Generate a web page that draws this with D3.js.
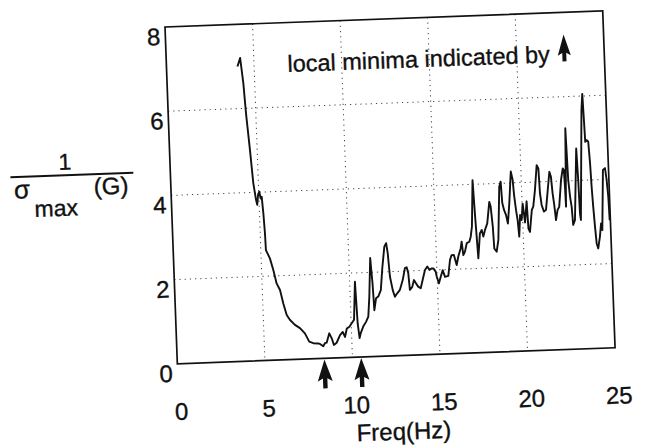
<!DOCTYPE html>
<html>
<head>
<meta charset="utf-8">
<title>1 / sigma max (G) vs frequency</title>
<script src="https://d3js.org/d3.v7.min.js"></script>
<style>
    body {
        margin: 0;
        background: #fff;
    }
    text {
        font-family: "Liberation Sans", Arial, sans-serif;
        fill: #111;
        stroke: #111;
        stroke-width: 0.35px;
    }
</style>
</head>
<body>
<script>
    // [freq (Hz), 1/sigma_max(G)]
    const curve = [
        [4.05, 7.0], [4.22, 7.2], [4.35, 6.6], [4.44, 5.88], [4.59, 5.0], [4.71, 4.22], [4.83, 3.82], [4.89, 3.7],
        [4.96, 3.95], [5.03, 4.01], [5.1, 3.85], [5.16, 3.89], [5.22, 3.5], [5.27, 3.02], [5.29, 2.62], [5.5, 2.42],
        [5.67, 2.14], [5.83, 1.82], [6.01, 1.66], [6.17, 1.34], [6.34, 1.06], [6.52, 0.94], [6.79, 0.82], [7.07, 0.74],
        [7.34, 0.61], [7.57, 0.41], [7.8, 0.37], [8.08, 0.36], [8.2, 0.34], [8.36, 0.29], [8.46, 0.36], [8.56, 0.37],
        [8.73, 0.59], [8.86, 0.47], [8.97, 0.31], [9.13, 0.36], [9.34, 0.54], [9.5, 0.61], [9.62, 0.49], [9.74, 0.69],
        [9.89, 0.73], [10.03, 0.81], [10.17, 0.89], [10.3, 1.79], [10.37, 0.8], [10.45, 0.45], [10.52, 0.56], [10.68, 0.72],
        [10.85, 0.83], [10.99, 0.95], [11.09, 1.42], [11.22, 2.34], [11.3, 1.74], [11.35, 1.1], [11.47, 1.38], [11.6, 1.42],
        [11.76, 1.57], [11.89, 2.09], [12.05, 2.6], [12.16, 2.68], [12.23, 2.44], [12.31, 1.88], [12.44, 1.56], [12.55, 1.4],
        [12.69, 1.48], [12.85, 1.56], [13.03, 1.79], [13.18, 2.07], [13.28, 2.09], [13.36, 1.95], [13.42, 1.55], [13.56, 1.62],
        [13.67, 1.78], [13.78, 1.7], [13.9, 1.62], [14.04, 1.58], [14.17, 1.78], [14.32, 2.01], [14.46, 2.09], [14.57, 2.01],
        [14.71, 2.04], [14.8, 2.04], [14.93, 1.96], [14.98, 1.84], [15.09, 1.68], [15.21, 1.84], [15.33, 1.99], [15.45, 1.83],
        [15.64, 1.85], [15.77, 2.23], [15.87, 2.34], [16.0, 2.34], [16.14, 2.1], [16.25, 2.3], [16.4, 2.49], [16.47, 2.65],
        [16.54, 2.33], [16.64, 2.41], [16.76, 2.61], [16.91, 2.64], [17.0, 2.76], [17.09, 3.0], [17.22, 4.1], [17.3, 3.15],
        [17.34, 2.75], [17.39, 2.24], [17.53, 2.83], [17.64, 2.91], [17.72, 2.75], [17.83, 2.91], [17.97, 3.06], [18.13, 3.57],
        [18.2, 3.45], [18.28, 2.98], [18.32, 2.46], [18.45, 2.38], [18.57, 2.66], [18.73, 3.92], [18.82, 4.04], [18.87, 3.53],
        [18.96, 3.36], [19.06, 3.24], [19.15, 3.04], [19.27, 3.52], [19.42, 4.27], [19.51, 4.07], [19.56, 3.71], [19.64, 3.35],
        [19.71, 3.11], [19.77, 2.72], [19.86, 3.23], [19.94, 3.11], [20.03, 3.5], [20.13, 3.05], [20.26, 3.55], [20.31, 2.9],
        [20.39, 2.82], [20.54, 3.34], [20.63, 3.42], [20.76, 3.81], [20.91, 4.4], [21.0, 4.32], [21.04, 3.73], [21.11, 3.45],
        [21.23, 3.29], [21.35, 3.33], [21.49, 3.8], [21.62, 4.23], [21.7, 4.11], [21.76, 3.72], [21.83, 3.44], [21.9, 3.08],
        [22.01, 3.32], [22.11, 3.39], [22.27, 4.03], [22.39, 4.3], [22.45, 4.26], [22.48, 3.86], [22.5, 3.39], [22.62, 5.25],
        [22.68, 4.02], [22.75, 3.62], [22.82, 3.38], [22.87, 2.95], [22.98, 3.06], [23.2, 4.76], [23.25, 4.01], [23.28, 3.22],
        [23.32, 3.06], [23.58, 5.67], [23.66, 6.05], [23.7, 5.43], [23.73, 4.91], [23.82, 4.95], [23.9, 4.91], [23.96, 4.4],
        [24.0, 3.84], [24.05, 3.36], [24.11, 2.89], [24.17, 2.49], [24.25, 2.37], [24.37, 2.65], [24.46, 2.96], [24.52, 2.8],
        [24.68, 4.23], [24.8, 4.27], [24.87, 3.99], [24.93, 3.59], [24.96, 3.03]
    ];
    const xTicks = [0, 5, 10, 15, 20, 25];
    const yTicks = [0, 2, 4, 6, 8];
    const xGrid = [5, 10, 15, 20];
    const yGrid = [2, 4, 6];
    const minima = [8.4, 10.5];
    const noteText = "local minima indicated by";
    const xTitle = "Freq(Hz)";

    const width = 646;
    const height = 447;
    const plotW = 438;
    const plotH = 337;

    const svg = d3.select("body")
        .append("svg")
        .attr("width", width)
        .attr("height", height);

    svg.append("rect")
        .attr("width", width)
        .attr("height", height)
        .attr("fill", "#fff");

    // the scan is slightly tilted, so the whole figure is drawn in a rotated frame
    const g = svg.append("g")
        .attr("transform", "translate(165,27) rotate(-2.1)");

    const x = d3.scaleLinear().domain([0, 25]).range([0, plotW]);
    const y = d3.scaleLinear().domain([0, 8]).range([plotH, 0]);

    // dotted grid
    g.append("g")
        .selectAll("line")
        .data(xGrid)
        .join("line")
        .attr("x1", function(d) { return x(d); })
        .attr("x2", function(d) { return x(d); })
        .attr("y1", 0)
        .attr("y2", plotH)
        .attr("stroke", "#444")
        .attr("stroke-width", 1)
        .attr("stroke-dasharray", "1.2,4");

    g.append("g")
        .selectAll("line")
        .data(yGrid)
        .join("line")
        .attr("x1", 0)
        .attr("x2", plotW)
        .attr("y1", function(d) { return y(d); })
        .attr("y2", function(d) { return y(d); })
        .attr("stroke", "#444")
        .attr("stroke-width", 1)
        .attr("stroke-dasharray", "1.2,4");

    // frame
    g.append("rect")
        .attr("width", plotW)
        .attr("height", plotH)
        .attr("fill", "none")
        .attr("stroke", "#111")
        .attr("stroke-width", 1.7);

    // the curve
    const line = d3.line()
        .x(function(d) { return x(d[0]); })
        .y(function(d) { return y(d[1]); });

    g.append("path")
        .datum(curve)
        .attr("d", line)
        .attr("fill", "none")
        .attr("stroke", "#111")
        .attr("stroke-width", 1.9)
        .attr("stroke-linejoin", "round");

    // tick labels
    const xAxis = g.append("g")
        .attr("transform", "translate(2," + plotH + ")")
        .call(d3.axisBottom(x).tickValues(xTicks).tickSize(0).tickPadding(39).tickFormat(d3.format("d")));
    xAxis.select(".domain").remove();
    xAxis.selectAll("text")
        .attr("font-size", 24)
        .style("font-family", "'Liberation Sans', Arial, sans-serif")
        .attr("fill", "#111");

    const yAxis = g.append("g")
        .attr("transform", "translate(-5,0)")
        .call(d3.axisLeft(y).tickValues(yTicks).tickSize(0).tickPadding(0).tickFormat(d3.format("d")));
    yAxis.select(".domain").remove();
    yAxis.selectAll("text")
        .attr("dy", "0.72em")
        .attr("font-size", 24)
        .style("font-family", "'Liberation Sans', Arial, sans-serif")
        .attr("fill", "#111");

    // x title
    g.append("text")
        .attr("x", 224)
        .attr("y", plotH + 84)
        .attr("text-anchor", "middle")
        .attr("font-size", 24)
        .text(xTitle);

    // y title as a fraction: 1 / sigma_max(G)
    const yt = g.append("g");
    yt.append("text")
        .attr("x", -105)
        .attr("y", 139)
        .attr("text-anchor", "middle")
        .attr("font-size", 23)
        .text("1");
    yt.append("line")
        .attr("x1", -160)
        .attr("x2", -37)
        .attr("y1", 144.5)
        .attr("y2", 144.5)
        .attr("stroke", "#111")
        .attr("stroke-width", 2.2);
    yt.append("text")
        .attr("x", -157)
        .attr("y", 166)
        .attr("font-size", 26)
        .text("σ");
    yt.append("text")
        .attr("x", -137)
        .attr("y", 185)
        .attr("font-size", 23)
        .text("max");
    yt.append("text")
        .attr("x", -77)
        .attr("y", 165)
        .attr("font-size", 24)
        .text("(G)");

    // arrow shape, tip at (0,0) pointing up
    const arrowPath = "M0,0 L7.5,22 L2.2,19 L2.2,29 L-2.2,29 L-2.2,19 L-7.5,22 Z";

    g.append("g")
        .selectAll("path")
        .data(minima)
        .join("path")
        .attr("transform", function(d) { return "translate(" + x(d) + "," + (plotH + 1) + ")"; })
        .attr("d", arrowPath)
        .attr("fill", "#111");

    // note
    g.append("text")
        .attr("x", 121)
        .attr("y", 49.5)
        .attr("font-size", 23.5)
        .text(noteText);

    g.append("path")
        .attr("transform", "translate(398,22)")
        .attr("d", "M0,0 L6.5,21 L2,18.5 L2,27 L-2,27 L-2,18.5 L-6.5,21 Z")
        .attr("fill", "#111");
</script>
</body>
</html>
